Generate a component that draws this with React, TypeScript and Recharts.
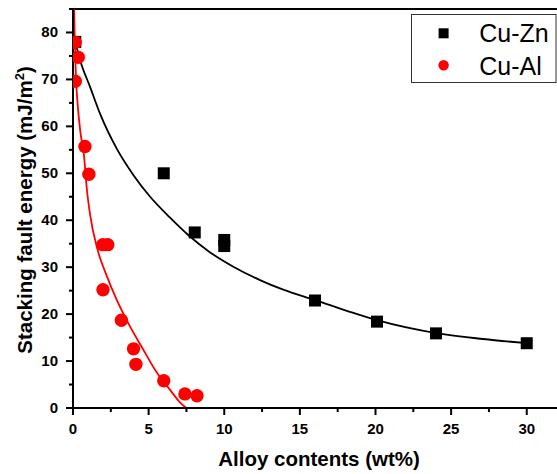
import { ComposedChart, Line, Scatter, XAxis, YAxis, ReferenceLine, Legend } from 'recharts'

// measured points
const cuZnX = [0.15, 6, 8.05, 10, 10, 16, 20.1, 24, 30]
const cuZnY = [78, 50, 37.4, 35.8, 34.5, 22.9, 18.4, 15.9, 13.8]

const cuAlX = [0.15, 0.35, 0.15, 0.79, 1.05, 1.97, 2.3, 1.98, 3.2, 4.0, 4.16, 6.0, 7.4, 8.2]
const cuAlY = [77.9, 74.7, 69.6, 55.7, 49.8, 34.8, 34.8, 25.2, 18.7, 12.6, 9.3, 5.8, 3.0, 2.6]

// fitted curves
const znFitX = [0.15, 0.48, 1.14, 1.8, 2.9, 4.0, 5.1, 6.4, 7.6, 9.0, 10.6, 12.4, 13.9, 16, 18.3, 20.1, 24.1, 27.1, 30]
const znFitY = [78, 74, 68.3, 62.6, 55.2, 49.6, 45.0, 40.6, 36.9, 33.3, 30.1, 27.2, 25.2, 23.0, 20.5, 18.7, 15.9, 14.7, 13.8]

const alFitX = [0.07, 0.12, 0.2, 0.3, 0.48, 0.72, 0.92, 1.14, 1.6, 2.25, 2.9, 3.6, 4.67, 5.55, 6.43, 7.1, 7.5]
const alFitY = [85, 78, 70, 65, 59, 54, 46.5, 41, 34, 28, 23, 18.4, 12.3, 7.5, 3.8, 1.1, 0]

const xTicks = [0, 2.5, 5, 7.5, 10, 12.5, 15, 17.5, 20, 22.5, 25, 27.5, 30]
const yTicks = [0, 5, 10, 15, 20, 25, 30, 35, 40, 45, 50, 55, 60, 65, 70, 75, 80, 85]

const FONT = '"Liberation Sans", Arial, sans-serif'

const zip = (xs: number[], ys: number[]) => xs.map((x, i) => ({ x, y: ys[i] }))

const cuZn = zip(cuZnX, cuZnY)
const cuAl = zip(cuAlX, cuAlY)
const znFit = zip(znFitX, znFitY)
const alFit = zip(alFitX, alFitY)

function XTick(props: any) {
  const { x, y, payload } = props
  const major = payload.value % 5 === 0
  return (
    <g>
      <line x1={x} x2={x} y1={y} y2={y + (major ? 7 : 4)} stroke="#000" strokeWidth={2} />
      {major && (
        <text x={x} y={y + 26} textAnchor="middle" fontFamily={FONT} fontWeight="bold" fontSize={15} fill="#000">
          {payload.value}
        </text>
      )}
    </g>
  )
}

function YTick(props: any) {
  const { x, y, payload } = props
  const major = payload.value % 10 === 0
  return (
    <g>
      <line x1={x} x2={x - (major ? 7 : 4)} y1={y} y2={y} stroke="#000" strokeWidth={2} />
      {major && payload.value <= 80 && (
        <text x={x - 15} y={y + 5} textAnchor="end" fontFamily={FONT} fontWeight="bold" fontSize={15} fill="#000">
          {payload.value}
        </text>
      )}
    </g>
  )
}

function Square(props: any) {
  const { cx, cy } = props
  return <rect x={cx - 6} y={cy - 6} width={12} height={12} fill="#000" />
}

function Dot(props: any) {
  const { cx, cy } = props
  return <circle cx={cx} cy={cy} r={6.7} fill="#ff0000" />
}

function LegendBox() {
  return (
    <svg width={146} height={70} style={{ display: 'block' }}>
      <rect x={0.5} y={0.5} width={144.5} height={68} fill="#fff" stroke="#333" strokeWidth={1} />
      <rect x={27.6} y={14.3} width={10} height={10} fill="#000" />
      <circle cx={32.6} cy={51.3} r={5.2} fill="#ff0000" />
      <text x={68.3} y={28} fontFamily={FONT} fontSize={25} fill="#000">Cu-Zn</text>
      <text x={68.3} y={61} fontFamily={FONT} fontSize={25} fill="#000">Cu-Al</text>
    </svg>
  )
}

export default function App() {
  return (
    <div style={{ position: 'absolute', left: 0, top: 0, width: 557, height: 474, background: '#fff' }}>
      <ComposedChart width={557} height={474} margin={{ top: 9, right: 0, bottom: 0, left: 0 }}>
        <XAxis
          type="number"
          dataKey="x"
          domain={[0, 32]}
          ticks={xTicks}
          interval={0}
          allowDataOverflow
          height={66}
          tickSize={0}
          tickMargin={0}
          tick={<XTick />}
          axisLine={{ stroke: '#000', strokeWidth: 2 }}
        />
        <YAxis
          type="number"
          dataKey="y"
          domain={[0, 85]}
          ticks={yTicks}
          interval={0}
          allowDataOverflow
          width={73}
          tickSize={0}
          tickMargin={0}
          tick={<YTick />}
          axisLine={{ stroke: '#000', strokeWidth: 2 }}
        />
        <ReferenceLine y={85} stroke="#000" strokeWidth={2} />
        <Line data={znFit} dataKey="y" type="monotone" stroke="#000" strokeWidth={1.8} dot={false} isAnimationActive={false} legendType="none" />
        <Scatter data={cuZn} dataKey="y" name="Cu-Zn" shape={<Square />} isAnimationActive={false} />
        <Line data={alFit} dataKey="y" type="monotone" stroke="#ff0000" strokeWidth={1.8} dot={false} isAnimationActive={false} legendType="none" />
        <Scatter data={cuAl} dataKey="y" name="Cu-Al" shape={<Dot />} isAnimationActive={false} />
        <Legend
          layout="vertical"
          align="center"
          verticalAlign="middle"
          content={<LegendBox />}
          wrapperStyle={{ position: 'absolute', left: 411, top: 14, width: 146, height: 70 }}
        />
      </ComposedChart>
      <svg width={557} height={474} style={{ position: 'absolute', left: 0, top: 0, pointerEvents: 'none' }}>
        <text x={319} y={466} textAnchor="middle" fontFamily={FONT} fontWeight="bold" fontSize={20.5} fill="#000">
          Alloy contents (wt%)
        </text>
        <text transform="translate(31.5,210) rotate(-90)" textAnchor="middle" fontFamily={FONT} fontWeight="bold" fontSize={20.5} fill="#000">
          Stacking fault energy (mJ/m<tspan dy={-8} fontSize={13}>2</tspan><tspan dy={8}>)</tspan>
        </text>
      </svg>
    </div>
  )
}
